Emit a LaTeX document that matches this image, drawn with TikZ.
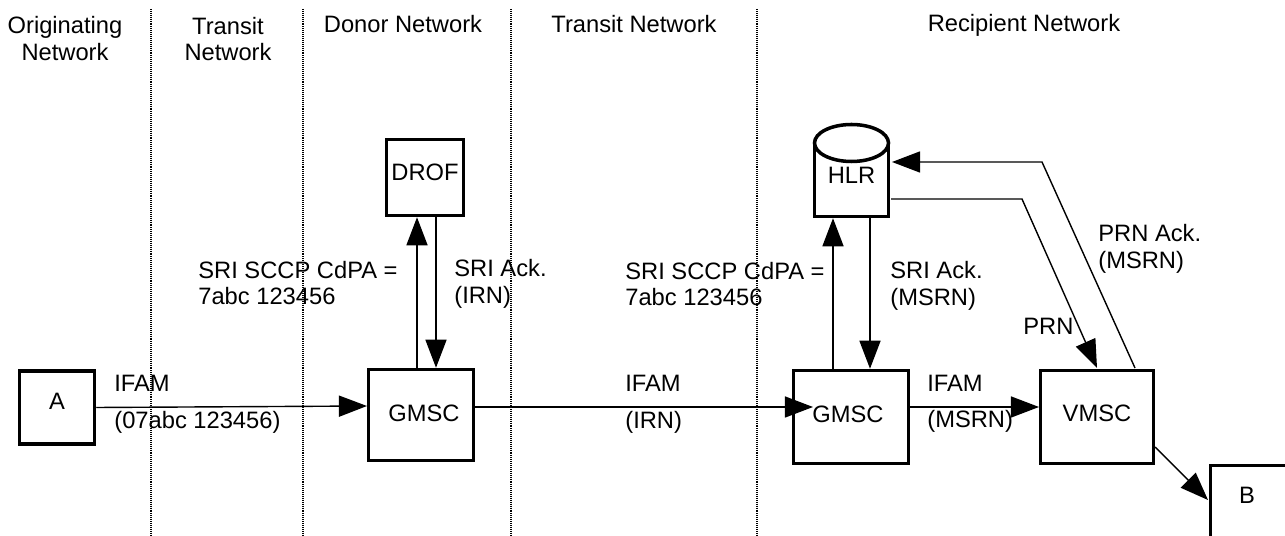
\documentclass[tikz,border=0pt]{standalone}
\usepackage{fontspec}
\setmainfont{Liberation Sans}
\usetikzlibrary{arrows.meta}
\begin{document}
\begin{tikzpicture}[x=0.02cm,y=-0.02cm]
	\tikzstyle{every node}+=[inner sep=0pt,font=\fontsize{13.5}{15.3}\selectfont]
	\tikzstyle{netbox}=[draw,line width=2pt,fill=white]
	\tikzstyle{flow}=[line width=0.8pt,-{Triangle[length=16pt,width=12pt]}]
	\tikzstyle{border}=[line width=0.6pt,dash pattern=on 0.55pt off 0.55pt]
	\tikzstyle{head}=[align=center]
	\tikzstyle{note}=[align=left,anchor=west]
	\clip (0,0) rectangle (1285,536);
	
	\coordinate (topa) at (151,9);
	\coordinate (topb) at (303,9);
	\coordinate (topc) at (511,9);
	\coordinate (topd) at (757,9);
	\coordinate (bota) at (151,536);
	\coordinate (botb) at (303,536);
	\coordinate (botc) at (511,536);
	\coordinate (botd) at (757,536);
	\draw [border] (topa) -- (bota);
	\draw [border] (topb) -- (botb);
	\draw [border] (topc) -- (botc);
	\draw [border] (topd) -- (botd);
	
	\node [head] (orig) at (65,38.5) {Originating\\Network};
	\node [head] (transa) at (228,39) {Transit\\Network};
	\node [head] (donor) at (403,24) {Donor Network};
	\node [head] (transb) at (634,24) {Transit Network};
	\node [head] (recip) at (1024,25.5) {Recipient Network};
	
	\node [netbox,minimum width=1.5cm,minimum height=1.46cm] (a) at (57,407.5) {\raisebox{7.5pt}{A}};
	\node [netbox,minimum width=2.1cm,minimum height=1.82cm] (gmsca) at (421,415) {\hspace*{3.4pt}\raisebox{2pt}{GMSC}};
	\node [netbox,minimum width=1.54cm,minimum height=1.52cm] (drof) at (425,177.5) {\raisebox{6.4pt}{DROF}};
	\node [netbox,minimum width=2.3cm,minimum height=1.86cm] (gmscb) at (851,417) {\raisebox{3.4pt}{GMSC}\hspace*{3.4pt}};
	\node [netbox,minimum width=2.26cm,minimum height=1.86cm] (vmsc) at (1097,417) {\raisebox{4pt}{VMSC}};
	\node [netbox,minimum width=1.48cm,minimum height=1.44cm] (hlr) at (851.5,180.5) {\raisebox{6.4pt}{HLR}};
	\draw [netbox] (851.5,143) ellipse (37 and 18.5);
	\node [netbox,minimum width=1.7cm,minimum height=1.7cm] (b) at (1253,508) {\raisebox{14.8pt}{\hspace*{-6.8pt}B}};
	
	\coordinate (ifamin) at (367,406);
	\coordinate (irnin) at (813,407);
	\coordinate (msrnin) at (1039,407);
	\coordinate (drofup) at (417,0);
	\coordinate (drofdown) at (436,0);
	\coordinate (hlrup) at (833,0);
	\coordinate (hlrdown) at (870,0);
	\coordinate (prnout) at (891,199);
	\coordinate (prnbend) at (1022,199);
	\coordinate (prnin) at (1097,368);
	\coordinate (ackout) at (1135,368);
	\coordinate (ackbend) at (1042,162);
	\coordinate (ackin) at (892,162);
	\coordinate (vmscout) at (1155,447);
	\coordinate (bin) at (1208,500);
	
	\draw [flow] (a.east) -- (ifamin);
	\draw [flow] (gmsca.east |- irnin) -- (irnin);
	\draw [flow] (gmscb.east |- msrnin) -- (msrnin);
	\draw [flow] (drofup |- gmsca.north) -- (drofup |- drof.south);
	\draw [flow] (drofdown |- drof.south) -- (drofdown |- gmsca.north);
	\draw [flow] (hlrup |- gmscb.north) -- (hlrup |- hlr.south);
	\draw [flow] (hlrdown |- hlr.south) -- (hlrdown |- gmscb.north);
	\draw [flow] (prnout) -- (prnbend) -- (prnin);
	\draw [flow] (ackout) -- (ackbend) -- (ackin);
	\draw [flow] (vmscout) -- (bin);
	
	\node [note] (ifama) at (114,383) {IFAM};
	\node [note] (ifamb) at (114,422) {(07abc 123456)};
	\node [note] (ifamc) at (625,383) {IFAM};
	\node [note] (irn) at (625,422) {(IRN)};
	\node [note] (ifamd) at (927,383) {IFAM};
	\node [note] (msrn) at (927,421) {(MSRN)};
	\node [note] (sria) at (198,283) {SRI SCCP CdPA =\\7abc 123456};
	\node [note] (ackb) at (454,284) {SRI Ack.\\(IRN)};
	\node [note] (srib) at (625,284) {SRI SCCP CdPA =\\7abc 123456};
	\node [note] (ackc) at (890,286) {SRI Ack.\\(MSRN)};
	\node [note] (prn) at (1023,326) {PRN};
	\node [note] (prnack) at (1098,249) {PRN Ack.\\(MSRN)};
\end{tikzpicture}
\end{document}
